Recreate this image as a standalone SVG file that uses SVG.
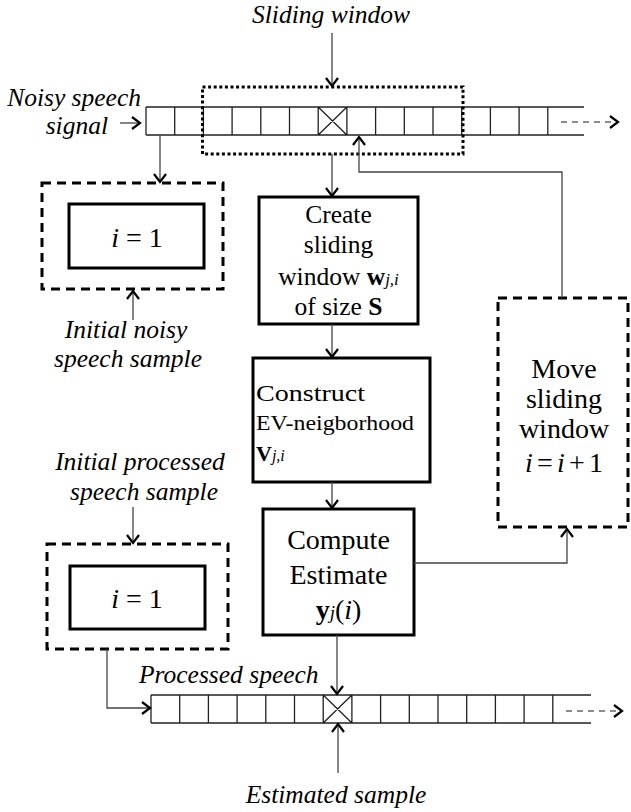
<svg xmlns="http://www.w3.org/2000/svg" width="631" height="812" viewBox="0 0 631 812">
  <style>
    text { font-family: "Liberation Serif", "Times New Roman", serif; fill: #000; }
    .lbl { font-style: italic; font-size: 25.5px; }
    .box { fill: none; stroke: #000; stroke-width: 3; }
    .dash { fill: none; stroke: #000; stroke-width: 3; stroke-dasharray: 9 6; }
    .dot { fill: none; stroke: #000; stroke-width: 3; stroke-dasharray: 3 2.6; }
    .cell { fill: none; stroke: #222; stroke-width: 1.3; }
    .conn { fill: none; stroke: #444; stroke-width: 1.3; marker-end: url(#chev); }
    .tail { fill: none; stroke: #666; stroke-width: 1.5; stroke-dasharray: 6 5; marker-end: url(#chev); }
  </style>
  <defs>
    <marker id="chev" viewBox="-10 -8 12 16" markerWidth="12" markerHeight="16" refX="0" refY="0" orient="auto" markerUnits="userSpaceOnUse">
      <path d="M-8,-6 L0,0 L-8,6" fill="none" stroke="#000" stroke-width="2.2"/>
    </marker>
  </defs>

  <!-- noisy input signal strip -->
  <g id="noisy-strip">
    <path class="cell" d="M146,107 H584 M146,135 H584
      M146,107 V135 M174.7,107 V135 M203.4,107 V135 M232.1,107 V135 M260.8,107 V135
      M289.5,107 V135 M318.2,107 V135 M346.9,107 V135 M375.6,107 V135 M404.3,107 V135
      M433,107 V135 M461.7,107 V135 M490.4,107 V135 M519.1,107 V135 M547.8,107 V135
      M318.2,107 L346.9,135 M346.9,107 L318.2,135"/>
    <text class="lbl" x="141" y="106" text-anchor="end">Noisy speech</text>
    <text class="lbl" x="108" y="134" text-anchor="end">signal</text>
  </g>

  <!-- sliding window frame -->
  <g id="sliding-window">
    <rect class="dot" x="202.5" y="87" width="260.5" height="67"/>
    <text class="lbl" x="331" y="23" text-anchor="middle">Sliding window</text>
  </g>

  <!-- initial noisy sample -->
  <g id="init-noisy">
    <rect class="dash" x="42" y="183" width="181" height="106"/>
    <rect class="box" x="69" y="204" width="135" height="64"/>
    <text x="137" y="247" font-size="28" text-anchor="middle"><tspan font-style="italic">i</tspan> = 1</text>
    <text class="lbl" x="126" y="338" text-anchor="middle">Initial noisy</text>
    <text class="lbl" x="128" y="367" text-anchor="middle">speech sample</text>
  </g>

  <!-- create window step -->
  <g id="create-window" font-size="25.5" text-anchor="middle">
    <rect class="box" x="259" y="197" width="159" height="127"/>
    <text x="338.5" y="223">Create</text>
    <text x="338.5" y="253">sliding</text>
    <text x="338.5" y="285">window <tspan font-weight="bold">w</tspan><tspan font-style="italic" font-size="17">j,i</tspan></text>
    <text x="338.5" y="315">of size <tspan font-weight="bold">S</tspan></text>
  </g>

  <!-- neighborhood step -->
  <g id="construct">
    <rect class="box" x="253" y="358" width="177" height="124"/>
    <text x="256" y="401" font-size="24" textLength="109" lengthAdjust="spacingAndGlyphs">Construct</text>
    <text x="256" y="430" font-size="20" textLength="158" lengthAdjust="spacingAndGlyphs">EV-neigborhood</text>
    <text x="256" y="461" font-size="22"><tspan font-weight="bold">V</tspan><tspan font-style="italic" font-size="16">j,i</tspan></text>
  </g>

  <!-- estimate step -->
  <g id="compute" font-size="28" text-anchor="middle">
    <rect class="box" x="263" y="509" width="151" height="126"/>
    <text x="338.5" y="549">Compute</text>
    <text x="338.5" y="584">Estimate</text>
    <text x="338.5" y="619"><tspan font-weight="bold">y</tspan><tspan font-style="italic" font-size="19">j</tspan>(<tspan font-style="italic">i</tspan>)</text>
  </g>

  <!-- window advance step -->
  <g id="move-window" font-size="28" text-anchor="middle">
    <rect class="dash" x="498" y="298" width="130" height="229"/>
    <text x="564" y="378">Move</text>
    <text x="564" y="408">sliding</text>
    <text x="564" y="438">window</text>
    <text x="564" y="472" textLength="78" lengthAdjust="spacing"><tspan font-style="italic">i</tspan> = <tspan font-style="italic">i</tspan> + 1</text>
  </g>

  <!-- initial processed sample -->
  <g id="init-processed">
    <rect class="dash" x="47" y="544" width="181" height="105"/>
    <rect class="box" x="70" y="566" width="135" height="63"/>
    <text x="137" y="608" font-size="28" text-anchor="middle"><tspan font-style="italic">i</tspan> = 1</text>
    <text class="lbl" x="140" y="470" text-anchor="middle">Initial processed</text>
    <text class="lbl" x="144" y="500" text-anchor="middle">speech sample</text>
  </g>

  <!-- processed output strip -->
  <g id="processed-strip">
    <path class="cell" d="M151,695 H591 M151,723 H591
      M151,695 V723 M179.7,695 V723 M208.4,695 V723 M237.1,695 V723 M265.8,695 V723
      M294.5,695 V723 M323.2,695 V723 M351.9,695 V723 M380.6,695 V723 M409.3,695 V723
      M438,695 V723 M466.7,695 V723 M495.4,695 V723 M524.1,695 V723 M552.8,695 V723
      M323.2,695 L351.9,723 M351.9,695 L323.2,723"/>
    <text class="lbl" x="139" y="683">Processed speech</text>
    <text class="lbl" x="336" y="803" text-anchor="middle">Estimated sample</text>
  </g>

  <!-- connectors -->
  <g id="connectors">
    <path class="conn" d="M332,33 V86"/>
    <path class="conn" d="M120,123 H140"/>
    <path class="conn" d="M160,135 V182"/>
    <path class="conn" d="M133,320 V291"/>
    <path class="conn" d="M332,154 V196"/>
    <path class="conn" d="M332,324 V357"/>
    <path class="conn" d="M332,482 V508"/>
    <path class="conn" d="M414,563 H567 V529"/>
    <path class="conn" d="M562,298 V172 H359 V137"/>
    <path class="conn" d="M133,507 V543"/>
    <path class="conn" d="M107,649 V708 H150"/>
    <path class="conn" d="M337,635 V694"/>
    <path class="conn" d="M338,773 V724"/>
    <path class="tail" d="M561,122 H618"/>
    <path class="tail" d="M566,711 H622"/>
  </g>
</svg>
